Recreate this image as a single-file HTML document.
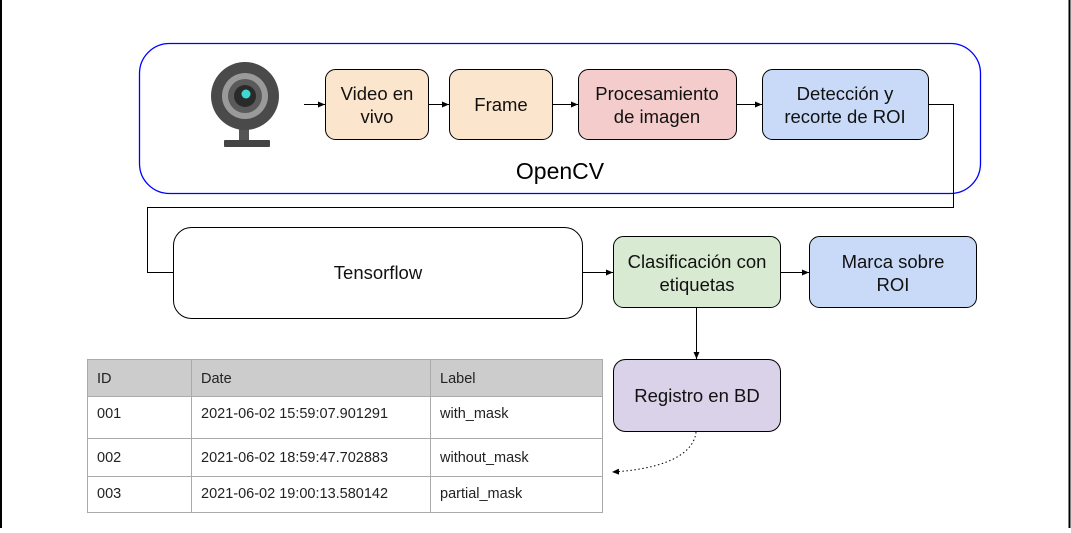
<!DOCTYPE html>
<html><head><meta charset="utf-8"><style>
body{margin:0;width:1071px;height:528px;overflow:hidden;background:#fff;font-family:"Liberation Sans",sans-serif}
</style></head><body>
<svg width="1071" height="528" xmlns="http://www.w3.org/2000/svg" font-family="Liberation Sans, sans-serif">
<defs><marker id="a" markerWidth="8" markerHeight="8" refX="7" refY="4" orient="auto" markerUnits="userSpaceOnUse"><path d="M0,1 L7,4 L0,7 Z" fill="#000"/></marker></defs>
<line x1="1" y1="0" x2="1" y2="528" stroke="#000" stroke-width="2"/>
<line x1="1069.5" y1="0" x2="1069.5" y2="528" stroke="#000" stroke-width="2"/>
<rect x="139.5" y="43.5" width="841" height="150" rx="30" fill="none" stroke="#0000ff" stroke-width="1.3"/>
<text x="560" y="179" font-size="23" text-anchor="middle">OpenCV</text>
<g>
<rect x="239" y="118" width="10" height="24" fill="#555"/>
<rect x="224" y="140" width="46" height="7" rx="1" fill="#444"/>
<circle cx="245" cy="96" r="34" fill="#4a4a4a"/>
<circle cx="245" cy="96" r="23" fill="#9a9a9a"/>
<circle cx="245" cy="96" r="17" fill="#5a5a5a"/>
<circle cx="245" cy="96" r="11" fill="#2a2a2a"/>
<circle cx="246" cy="94" r="4.5" fill="#3fd8d0"/>
</g>
<g stroke="#000" stroke-width="1">
<rect x="325.5" y="69.5" width="103" height="70" rx="10" fill="#fce5cd"/>
<rect x="449.5" y="69.5" width="103" height="70" rx="10" fill="#fce5cd"/>
<rect x="578.5" y="69.5" width="158" height="70" rx="10" fill="#f4cccc"/>
<rect x="762.5" y="69.5" width="166" height="70" rx="10" fill="#c9daf8"/>
<rect x="173.5" y="227.5" width="409" height="91" rx="18" fill="#fff"/>
<rect x="613.5" y="236.5" width="167" height="71" rx="10" fill="#d9ead3"/>
<rect x="809.5" y="236.5" width="167" height="71" rx="10" fill="#c9daf8"/>
<rect x="613.5" y="359.5" width="167" height="72" rx="12" fill="#d9d2e9"/>
<line x1="304" y1="104.5" x2="325" y2="104.5" marker-end="url(#a)"/>
<line x1="428" y1="104.5" x2="449" y2="104.5" marker-end="url(#a)"/>
<line x1="552" y1="104.5" x2="578" y2="104.5" marker-end="url(#a)"/>
<line x1="736" y1="104.5" x2="762" y2="104.5" marker-end="url(#a)"/>
<polyline points="928,104.5 953.5,104.5 953.5,207.5 147.5,207.5 147.5,272.5 173,272.5" fill="none"/>
<line x1="582" y1="272.5" x2="613" y2="272.5" marker-end="url(#a)"/>
<line x1="780" y1="272.5" x2="809" y2="272.5" marker-end="url(#a)"/>
<line x1="696.5" y1="307" x2="696.5" y2="359" marker-end="url(#a)"/>
<path d="M696,432 C693,460 650,470 612,472" fill="none" stroke-dasharray="1.5,2.5" marker-end="url(#a)"/>
</g>
<g font-size="18.5" text-anchor="middle" fill="#111">
<text x="377" y="100">Video en</text><text x="377" y="123">vivo</text>
<text x="501" y="111">Frame</text>
<text x="657" y="100">Procesamiento</text><text x="657" y="123">de imagen</text>
<text x="845" y="100">Detección y</text><text x="845" y="123">recorte de ROI</text>
<text x="378" y="279">Tensorflow</text>
<text x="697" y="268">Clasificación con</text><text x="697" y="291">etiquetas</text>
<text x="893" y="268">Marca sobre</text><text x="893" y="291">ROI</text>
<text x="697" y="402">Registro en BD</text>
</g>
<rect x="87.5" y="359.5" width="515" height="37" fill="#cccccc"/>
<g stroke="#aaa" stroke-width="1" fill="none">
<rect x="87.5" y="359.5" width="515" height="153"/>
<line x1="87" y1="396.5" x2="602" y2="396.5"/>
<line x1="87" y1="438.5" x2="602" y2="438.5"/>
<line x1="87" y1="476.5" x2="602" y2="476.5"/>
<line x1="191.5" y1="359" x2="191.5" y2="512"/>
<line x1="430.5" y1="359" x2="430.5" y2="512"/>
</g>
<g font-size="14.5" fill="#222">
<text x="97" y="383">ID</text><text x="201" y="383">Date</text><text x="440" y="383">Label</text>
<text x="97" y="418">001</text><text x="201" y="418">2021-06-02 15:59:07.901291</text><text x="440" y="418">with_mask</text>
<text x="97" y="462">002</text><text x="201" y="462">2021-06-02 18:59:47.702883</text><text x="440" y="462">without_mask</text>
<text x="97" y="498">003</text><text x="201" y="498">2021-06-02 19:00:13.580142</text><text x="440" y="498">partial_mask</text>
</g>
</svg>
</body></html>
